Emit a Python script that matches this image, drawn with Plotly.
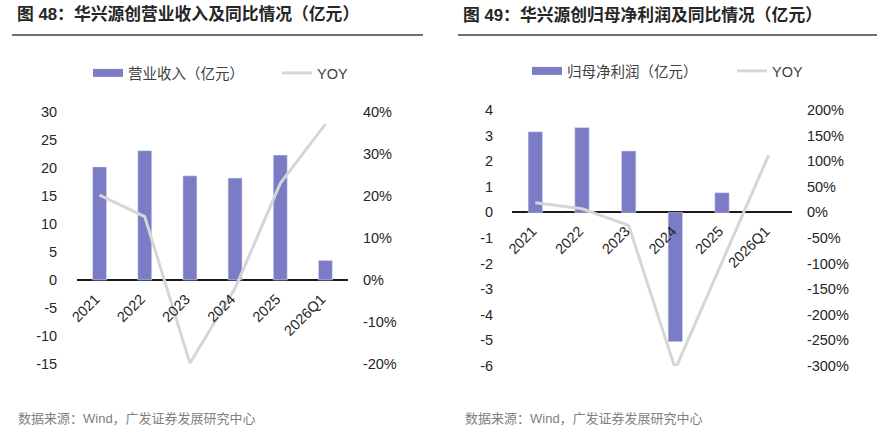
import plotly.graph_objects as go

# ---------------- data ----------------
categories = ["2021", "2022", "2023", "2024", "2025", "2026Q1"]

revenue = [20.2, 23.1, 18.6, 18.2, 22.3, 3.5]          # 亿元
revenue_yoy = [20.2, 15.1, -19.8, -2.0, 23.0, 37.1]     # %

profit = [3.15, 3.32, 2.40, -5.05, 0.77, None]          # 亿元
profit_yoy = [19.0, 7.0, -25.5, -306.0, -97.0, 112.0]   # %

left_title = "图 48：华兴源创营业收入及同比情况（亿元）"
right_title = "图 49：华兴源创归母净利润及同比情况（亿元）"
source_text = "数据来源：Wind，广发证券发展研究中心"
rev_name = "营业收入（亿元）"
prof_name = "归母净利润（亿元）"
yoy_name = "YOY"

left_y_ticks = [-15, -10, -5, 0, 5, 10, 15, 20, 25, 30]
left_y2_ticks = [-20, -10, 0, 10, 20, 30, 40]
right_y_ticks = [-6, -5, -4, -3, -2, -1, 0, 1, 2, 3, 4]
right_y2_ticks = [-300, -250, -200, -150, -100, -50, 0, 50, 100, 150, 200]

# ---------------- style ----------------
W, H = 893, 432
BAR = "#7C7CC6"
LINE = "#D6D6D6"
TXT = "#262626"
FONT = "Liberation Sans, Arial, Noto Sans CJK SC, sans-serif"

def px(x):
    return x / W

def py(y):
    return 1 - y / H

def num_text(vals):
    return [str(v) for v in vals]

def pct_text(vals):
    return [f"{v}%" for v in vals]

fig = go.Figure()

# left chart
fig.add_trace(go.Scatter(x=[None], y=[None], mode="lines", name=rev_name,
                         line=dict(color=BAR, width=8), xaxis="x", yaxis="y",
                         legend="legend", legendwidth=144, hoverinfo="skip"))
fig.add_trace(go.Bar(x=categories, y=revenue, marker_color=BAR, name=rev_name,
                     showlegend=False, xaxis="x", yaxis="y"))
fig.add_trace(go.Scatter(x=categories, y=revenue_yoy, mode="lines", name=yoy_name,
                         line=dict(color=LINE, width=3), xaxis="x", yaxis="y2",
                         legend="legend", legendwidth=35))

# right chart
fig.add_trace(go.Scatter(x=[None], y=[None], mode="lines", name=prof_name,
                         line=dict(color=BAR, width=8), xaxis="x2", yaxis="y3",
                         legend="legend2", legendwidth=160, hoverinfo="skip"))
fig.add_trace(go.Bar(x=categories, y=profit, marker_color=BAR, name=prof_name,
                     showlegend=False, xaxis="x2", yaxis="y3"))
fig.add_trace(go.Scatter(x=categories, y=profit_yoy, mode="lines", name=yoy_name,
                         line=dict(color=LINE, width=3), xaxis="x2", yaxis="y4",
                         legend="legend2", legendwidth=35))

tickfont = dict(family=FONT, size=14.5, color=TXT)
hidden_tick = dict(ticks="outside", tickcolor="rgba(0,0,0,0)")

left_dom = [py(364), py(112)]
right_dom = [py(366), py(110)]

fig.update_layout(
    width=W, height=H,
    margin=dict(l=0, r=0, t=0, b=0, autoexpand=False),
    paper_bgcolor="white", plot_bgcolor="white",
    bargap=0.69,
    font=dict(family=FONT, color=TXT),
    xaxis=dict(domain=[px(77), px(348)], type="category", categoryorder="array",
               categoryarray=categories, anchor="free", position=py(280),
               showgrid=False, showline=False, zeroline=False, tickangle=-45,
               tickfont=tickfont, ticklen=4, ticklabelshift=-4, **hidden_tick),
    yaxis=dict(domain=left_dom, range=[-15, 30], tickvals=left_y_ticks,
               ticktext=num_text(left_y_ticks),
               showgrid=False, zeroline=True, zerolinecolor="#1a1a1a",
               zerolinewidth=1.5, showline=False, tickfont=tickfont,
               ticklen=16, anchor="x", **hidden_tick),
    yaxis2=dict(domain=left_dom, range=[-20, 40], tickvals=left_y2_ticks,
                ticktext=pct_text(left_y2_ticks),
                overlaying="y", side="right", anchor="x",
                showgrid=False, zeroline=False, showline=False,
                tickfont=tickfont, ticklen=11, **hidden_tick),
    xaxis2=dict(domain=[px(512), px(792)], type="category", categoryorder="array",
                categoryarray=categories, anchor="free", position=py(212),
                showgrid=False, showline=False, zeroline=False, tickangle=-45,
                tickfont=tickfont, ticklen=4, ticklabelshift=-3, **hidden_tick),
    yaxis3=dict(domain=right_dom, range=[-6, 4], tickvals=right_y_ticks,
                ticktext=num_text(right_y_ticks),
                showgrid=False, zeroline=True, zerolinecolor="#1a1a1a",
                zerolinewidth=1.5, showline=False, tickfont=tickfont,
                ticklen=15, anchor="x2", **hidden_tick),
    yaxis4=dict(domain=right_dom, range=[-300, 200], tickvals=right_y2_ticks,
                ticktext=pct_text(right_y2_ticks),
                overlaying="y3", side="right", anchor="x2",
                showgrid=False, zeroline=False, showline=False,
                tickfont=tickfont, ticklen=11, **hidden_tick),
    legend=dict(orientation="h", x=px(88), y=py(73), xanchor="left", yanchor="middle",
                font=dict(family=FONT, size=14.5, color="#404040"),
                bgcolor="rgba(0,0,0,0)", itemclick=False, itemdoubleclick=False),
    legend2=dict(orientation="h", x=px(527), y=py(71), xanchor="left", yanchor="middle",
                 font=dict(family=FONT, size=14.5, color="#404040"),
                 bgcolor="rgba(0,0,0,0)", itemclick=False, itemdoubleclick=False),
    showlegend=True,
)

# titles, rules and source notes
for x0, x1, title in [(12, 423, left_title), (458, 877, right_title)]:
    fig.add_annotation(text="<b>" + title + "</b>", xref="paper", yref="paper",
                       x=px(x0 + 3), y=py(15), xanchor="left", yanchor="middle",
                       showarrow=False, font=dict(family=FONT, size=16.8, color="#262626"))
    fig.add_shape(type="line", xref="paper", yref="paper", x0=px(x0), x1=px(x1),
                  y0=py(35), y1=py(35), line=dict(color="#404040", width=1.5))

for x0 in [16, 463]:
    fig.add_annotation(text=source_text, xref="paper", yref="paper",
                       x=px(x0), y=py(418), xanchor="left", yanchor="middle",
                       showarrow=False, font=dict(family=FONT, size=13, color="#7f7f7f"))

css_fix = (
    "document.documentElement.style.margin='0';"
    "document.documentElement.style.padding='0';"
    "document.documentElement.style.overflow='hidden';"
    "document.body.style.margin='0';"
    "document.body.style.padding='0';"
    "document.body.style.overflow='hidden';"
)

fig.write_html("out.html", config={"displayModeBar": False}, post_script=css_fix)
